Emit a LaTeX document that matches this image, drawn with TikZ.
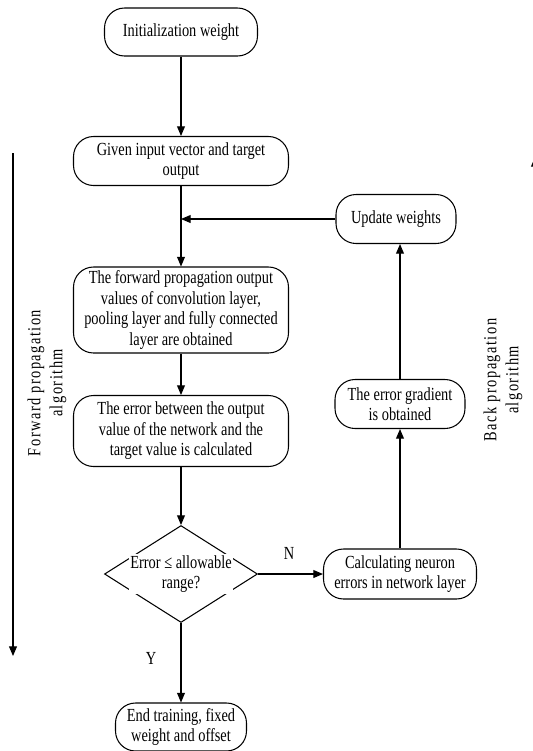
\documentclass[tikz,border=0pt]{standalone}
\usepackage{fontspec}
\setmainfont{Liberation Serif}[FakeStretch=0.78]
\usetikzlibrary{shapes.geometric,arrows.meta}

\begin{document}
\begin{tikzpicture}[x=0.02cm, y=-0.02cm, >={Triangle[length=5.5pt,width=4.5pt]}, line width=0.6pt,
        every node/.style={font=\fontsize{10.5}{11.7}\selectfont},
        box/.style={draw, rounded corners=0.4cm, align=center, inner sep=1pt},
        decide/.style={draw, diamond, minimum width=3.06cm, minimum height=1.94cm, inner sep=0pt},
        sidelab/.style={rotate=90, align=center, font=\fontsize{10.5}{12.5}\selectfont\addfontfeatures{LetterSpace=8}}]
        \useasboundingbox (0,0) rectangle (533,751);

        \node[box, minimum width=3.06cm, minimum height=0.96cm] (init) at (181,32) {Initialization weight};
        \node[box, minimum width=4.3cm, minimum height=0.98cm] (given) at (181,161) {Given input vector and target\\output};
        \node[box, minimum width=2.4cm, minimum height=0.98cm] (upd) at (396,219) {Update weights};
        \node[box, minimum width=4.3cm, minimum height=1.72cm] (fwd) at (181,310) {The forward propagation output\\values of convolution layer,\\pooling layer and fully connected\\layer are obtained};
        \node[box, minimum width=4.3cm, minimum height=1.42cm] (err) at (181,431) {The error between the output\\value of the network and the\\target value is calculated};
        \node[box, minimum width=2.6cm, minimum height=0.98cm] (grad) at (400,404) {The error gradient\\is obtained};
        \node[decide] (dec) at (181,574) {};
        \node[fill=white, inner sep=1pt, align=center] (dectext) at (dec) {Error ≤ allowable\\range?};
        \node[box, minimum width=3.06cm, minimum height=1.0cm] (calc) at (400,574) {Calculating neuron\\errors in network layer};
        \node[box, minimum width=2.62cm, minimum height=0.96cm] (end) at (181,727) {End training, fixed\\weight and offset};

        \node (nlab) at (289,553) {N};
        \node (ylab) at (151,658) {Y};

        \node[sidelab] (fplab) at (47,383) {Forward propagation\\algorithm};
        \node[sidelab] (bplab) at (503,380) {Back propagation\\algorithm};

        \coordinate (fptop) at (13,153);
        \coordinate (fpbot) at (13,656);
        \draw[->] (fptop) -- (fpbot);
        \coordinate (bpbot) at (535,656);
        \coordinate (bptop) at (535,157);
        \draw[->] (bpbot) -- (bptop);

        \draw[->] (init) -- (given);
        \draw[->] (given) -- (fwd);
        \draw[->] (upd) -- (upd -| given);
        \draw[->] (fwd) -- (err);
        \draw[->] (err) -- (dec);
        \draw[->] (dec) -- (calc);
        \draw[->] (dec) -- (end);
        \draw[->] (calc) -- (grad);
        \draw[->] (grad) -- (grad |- upd.south);
    \end{tikzpicture}
\end{document}
